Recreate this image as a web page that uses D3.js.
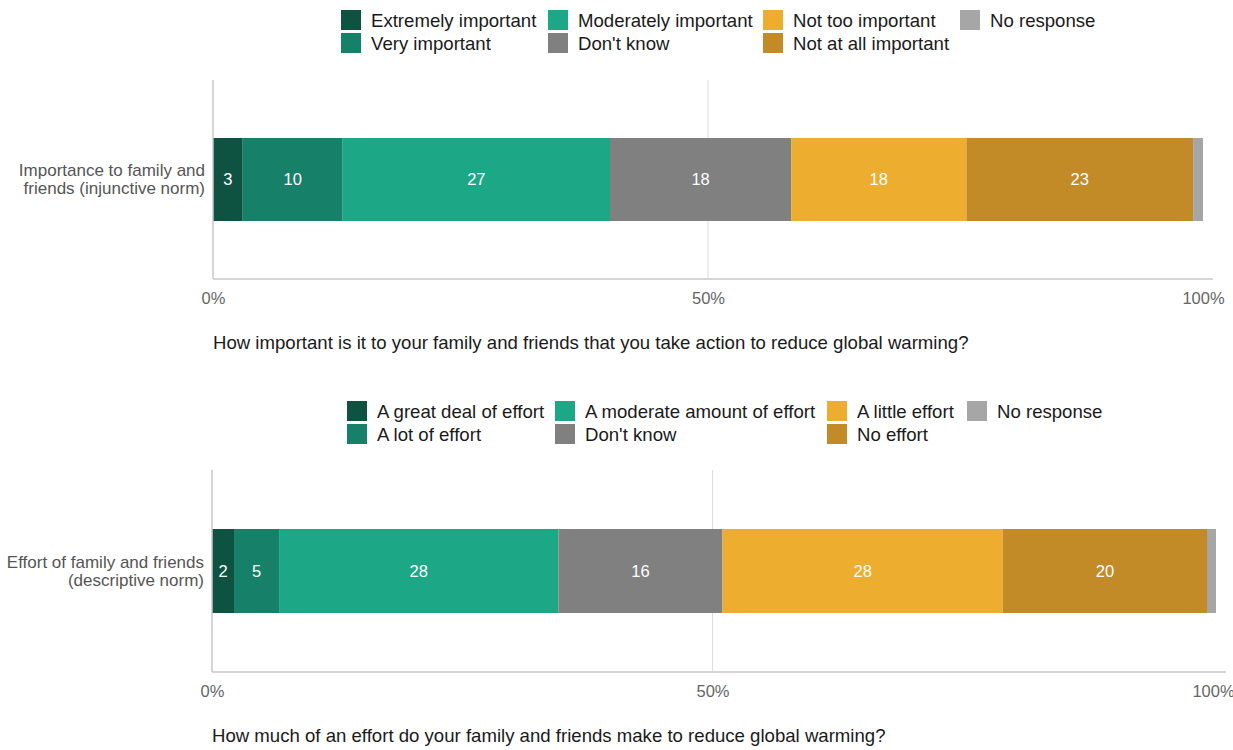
<!DOCTYPE html>
<html>
<head>
<meta charset="utf-8">
<script src="https://cdn.jsdelivr.net/npm/d3@7"></script>
<style>
  body { margin: 0; background: #fff; }
  svg { display: block; font-family: "Liberation Sans", Arial, sans-serif; }
</style>
</head>
<body>
<svg id="chart" width="1233" height="750"></svg>
<script>
// ---- Data ----
const categories1 = ["Extremely important", "Very important", "Moderately important", "Don't know", "Not too important", "Not at all important", "No response"];
const values1 = [3.0, 10.1, 27.0, 18.3, 17.7, 22.9, 1.0];
const rowLabel1 = ["Importance to family and", "friends (injunctive norm)"];
const caption1 = "How important is it to your family and friends that you take action to reduce global warming?";

const categories2 = ["A great deal of effort", "A lot of effort", "A moderate amount of effort", "Don't know", "A little effort", "No effort", "No response"];
const values2 = [2.2, 4.5, 27.9, 16.4, 28.0, 20.4, 0.9];
const rowLabel2 = ["Effort of family and friends", "(descriptive norm)"];
const caption2 = "How much of an effort do your family and friends make to reduce global warming?";

const tickValues = [0, 50, 100];
const tickLabels = ["0%", "50%", "100%"];
const colors = ["#0e5242", "#178068", "#1ca886", "#808080", "#edad2e", "#c28b27", "#a6a6a6"];

const svg = d3.select("#chart");

function panel(cfg) {
  const g = svg.append("g");
  const x = d3.scaleLinear().domain([0, 100]).range([cfg.x0, cfg.x1]);

  // legend (2 rows, column-major)
  cfg.categories.forEach((c, i) => {
    const col = Math.floor(i / 2), row = i % 2;
    const lx = cfg.legendX[col], ly = cfg.legendY + row * 23;
    g.append("rect").attr("x", lx).attr("y", ly).attr("width", 20).attr("height", 20)
      .attr("fill", colors[i]);
    g.append("text").attr("x", lx + 30).attr("y", ly + 10).attr("dy", "0.35em")
      .attr("font-size", 18.6).attr("fill", "#1a1a1a").text(c);
  });

  // grid line at 50%
  g.append("line").attr("x1", x(50)).attr("x2", x(50))
    .attr("y1", cfg.top).attr("y2", cfg.bottom)
    .attr("stroke", "#dcdcdc").attr("stroke-width", 1);

  // stacked bar
  let cum = 0;
  const segs = cfg.values.map((v, i) => { const s = { i, v, start: cum }; cum += v; return s; });
  g.selectAll("rect.seg").data(segs).enter().append("rect")
    .attr("class", "seg")
    .attr("x", d => x(d.start)).attr("width", d => x(d.start + d.v) - x(d.start))
    .attr("y", cfg.barTop).attr("height", cfg.barH)
    .attr("fill", d => colors[d.i]);
  g.selectAll("text.val").data(segs.filter(d => d.i < 6)).enter().append("text")
    .attr("x", d => x(d.start + d.v / 2)).attr("y", cfg.barTop + cfg.barH / 2)
    .attr("dy", "0.35em").attr("text-anchor", "middle")
    .attr("font-size", 16.5).attr("fill", "#fff")
    .text(d => Math.round(d.v));

  // axes lines
  g.append("line").attr("x1", cfg.x0).attr("x2", cfg.x0).attr("y1", cfg.top).attr("y2", cfg.bottom)
    .attr("stroke", "#c8c8c8").attr("stroke-width", 1.5);
  g.append("line").attr("x1", cfg.x0).attr("x2", cfg.axisEnd).attr("y1", cfg.bottom).attr("y2", cfg.bottom)
    .attr("stroke", "#c8c8c8").attr("stroke-width", 1.5);

  // tick labels
  const axis = d3.axisBottom(x).tickValues(tickValues).tickSize(0).tickPadding(0)
    .tickFormat((d, i) => tickLabels[i]);
  const ag = g.append("g").attr("transform", `translate(0,${cfg.bottom + 19})`).call(axis);
  ag.select(".domain").remove();
  ag.selectAll("text").attr("font-size", 16.5).attr("fill", "#666")
    .attr("font-family", "Liberation Sans, Arial, sans-serif").attr("dy", "0.35em").attr("y", 0);

  // row label
  cfg.rowLabel.forEach((t, i) => {
    g.append("text").attr("x", cfg.x0 - 8).attr("y", cfg.barTop + cfg.barH / 2 - 9 + i * 18)
      .attr("dy", "0.35em").attr("text-anchor", "end")
      .attr("font-size", 17).attr("fill", "#555").text(t);
  });

  // caption
  g.append("text").attr("x", cfg.x0).attr("y", cfg.captionY).attr("dy", "0.35em")
    .attr("font-size", 18.6).attr("fill", "#1a1a1a").text(cfg.caption);
}

panel({
  categories: categories1, values: values1, rowLabel: rowLabel1, caption: caption1,
  x0: 213, x1: 1203, axisEnd: 1213, top: 80, bottom: 279,
  barTop: 138, barH: 83, legendX: [341, 548, 763, 960], legendY: 10, captionY: 342
});
panel({
  categories: categories2, values: values2, rowLabel: rowLabel2, caption: caption2,
  x0: 212, x1: 1213, axisEnd: 1226, top: 470, bottom: 672,
  barTop: 529, barH: 84, legendX: [347, 555, 827, 967], legendY: 401, captionY: 735
});
</script>
</body>
</html>
